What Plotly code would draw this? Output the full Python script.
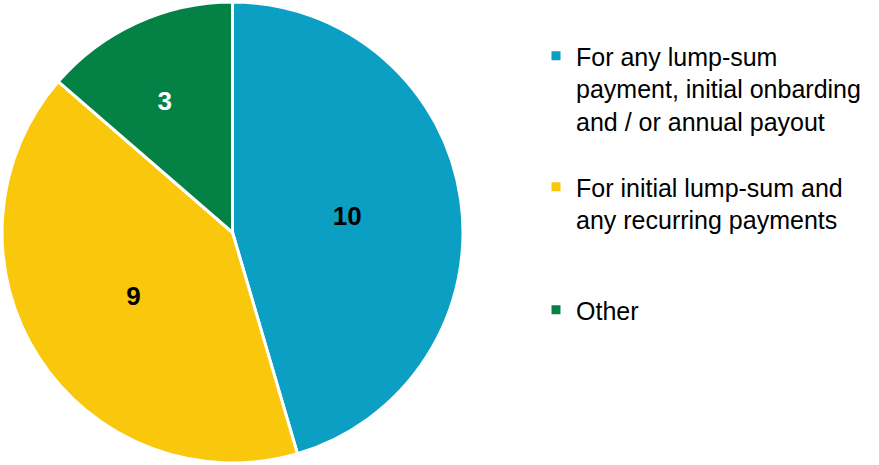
import plotly.graph_objects as go

labels = [
    "For any lump-sum<br>payment, initial onbarding<br>and / or annual payout",
    "For initial lump-sum and<br>any recurring payments",
    "Other",
]
values = [10, 9, 3]
colors = ["#0B9FC4", "#F9C80C", "#048245"]
text_colors = ["#000000", "#000000", "#FFFFFF"]
text_templates = ["%{value}", "%{value}", "&nbsp;<br>%{value}"]

fig = go.Figure()
fig.add_trace(go.Pie(
    labels=labels, values=values, sort=False, direction="clockwise", rotation=0,
    marker=dict(colors=colors, line=dict(color="white", width=3)),
    texttemplate=text_templates, textposition="inside", insidetextorientation="horizontal",
    textfont=dict(family="Liberation Sans", size=26, color=text_colors, weight="bold"),
    domain=dict(x=[2/879, 463/879], y=[0, 1]),
    showlegend=False, hoverinfo="label+value",
))

legend_names = ["legend", "legend2", "legend3"]
legend_y = [1 - 33/465, 1 - 164/465, 1 - 287/465]
for lab, col, lg in zip(labels, colors, legend_names):
    fig.add_trace(go.Scatter(
        x=[None], y=[None], mode="markers", name=lab, legend=lg,
        marker=dict(symbol="square", size=9, color=col), showlegend=True,
    ))

layout_legends = {}
for lg, yy in zip(legend_names, legend_y):
    layout_legends[lg] = dict(
        x=536/879, xanchor="left", y=yy, yanchor="top", valign="top",
        font=dict(family="Liberation Sans", size=25, color="#000000"),
        bgcolor="rgba(0,0,0,0)",
    )

fig.update_layout(
    width=879, height=465, margin=dict(l=0, r=0, t=0, b=0),
    paper_bgcolor="white", plot_bgcolor="white",
    xaxis=dict(visible=False), yaxis=dict(visible=False),
    **layout_legends,
)
fig.write_html("out.html")
